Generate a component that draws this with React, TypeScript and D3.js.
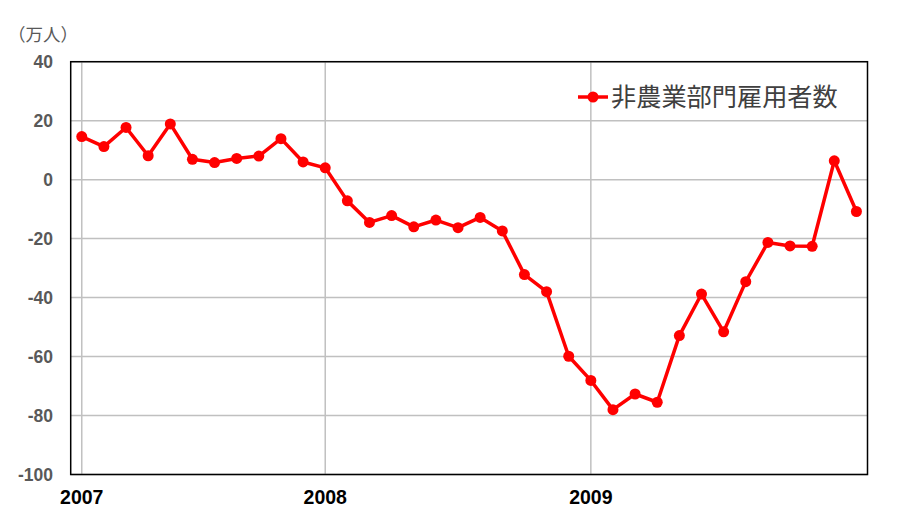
import React from "react";
import * as d3 from "d3";

const months: string[] = [];
for (const y of [2007, 2008, 2009]) for (let m = 1; m <= 12; m++) months.push(`${y}-${m}`);

const payrolls = [
  14.6, 11.2, 17.7, 8.1, 18.9, 6.9, 5.8, 7.2, 8.0, 13.9, 6.0, 4.0,
  -7.2, -14.5, -12.2, -16.0, -13.7, -16.3, -12.8, -17.4, -32.2, -38.0, -59.9, -68.1,
  -78.0, -72.7, -75.5, -52.9, -38.8, -51.6, -34.6, -21.3, -22.5, -22.6, 6.4, -10.8,
];

const yTicks = [40, 20, 0, -20, -40, -60, -80, -100];
const yearLabels = ["2007", "2008", "2009"];
const yearIndex = [0, 11, 23];
const seriesName = "非農業部門雇用者数";
const unitLabel = "（万人）";

export default function App() {
  const W = 900, H = 520;
  const L = 70.7, R = 867.5, T = 61.7, B = 474.5;
  const x = d3.scaleBand<string>().domain(months).range([L, R]);
  const cx = (i: number) => (x(months[i]) as number) + x.bandwidth() / 2;
  const y = d3.scaleLinear().domain([-100, 40]).range([B, T]);
  const line = d3.line<number>().x((_, i) => cx(i)).y((d) => y(d));
  const latin = "'Liberation Sans', Arial, sans-serif";
  const cjk = "'Noto Sans CJK JP', 'Noto Sans', sans-serif";
  return (
    <svg width={W} height={H} style={{ position: "absolute", left: 0, top: 0, background: "#fff" }}>
      <rect x={0} y={0} width={W} height={H} fill="#fff" />
      {yTicks.map((t) => (
        <line key={"g" + t} x1={L} x2={R} y1={y(t)} y2={y(t)} stroke="#c0c0c0" strokeWidth={1.5} />
      ))}
      {yearIndex.map((i) => (
        <line key={"v" + i} x1={cx(i)} x2={cx(i)} y1={T} y2={B} stroke="#c0c0c0" strokeWidth={1.5} />
      ))}
      <rect x={L} y={T} width={R - L} height={B - T} fill="none" stroke="#000" strokeWidth={1.5} />
      {yTicks.map((t) => (
        <text key={"t" + t} x={53} y={y(t)} dy="0.36em" textAnchor="end" fontFamily={latin}
          fontWeight="bold" fontSize={17.5} fill="#595959">{t}</text>
      ))}
      {yearIndex.map((i, k) => (
        <text key={"yl" + i} x={cx(i)} y={504} textAnchor="middle" fontFamily={latin}
          fontWeight="bold" fontSize={19.5} fill="#000">{yearLabels[k]}</text>
      ))}
      <text x={8} y={41} fontFamily={cjk} fontSize={17.5} fill="#595959">{unitLabel}</text>
      <path d={line(payrolls) as string} fill="none" stroke="#ff0000" strokeWidth={3.5} strokeLinejoin="round" />
      {payrolls.map((v, i) => (
        <circle key={"p" + i} cx={cx(i)} cy={y(v)} r={5.5} fill="#ff0000" />
      ))}
      <line x1={578} x2={608} y1={97} y2={97} stroke="#ff0000" strokeWidth={3.5} />
      <circle cx={593} cy={97} r={5.5} fill="#ff0000" />
      <text x={611} y={97} dy="0.36em" fontFamily={cjk} fontSize={25.2} fill="#404040">{seriesName}</text>
    </svg>
  );
}
